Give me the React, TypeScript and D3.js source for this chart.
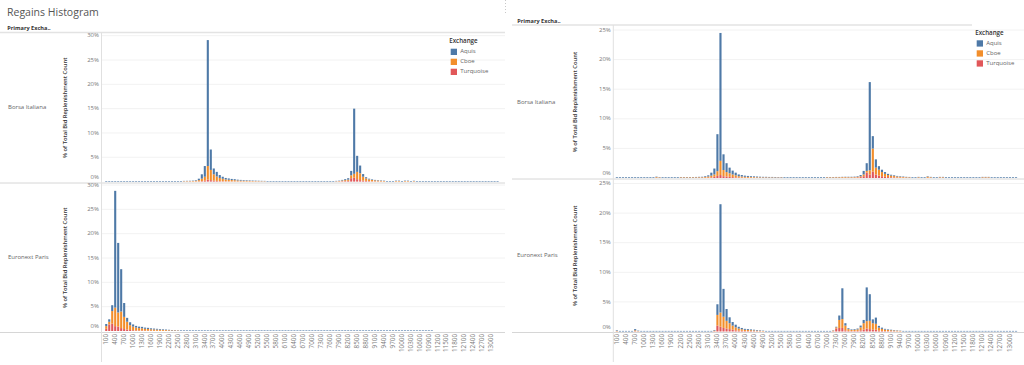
import { useEffect, useRef } from 'react'
import * as d3 from 'd3'

const W = 1024
const H = 365

// histogram bins, size 100
const BIN_FIRST = 100
const BIN_LAST = 13200
const BIN_SIZE = 100
const BINS = d3.range(BIN_FIRST, BIN_LAST + 1, BIN_SIZE)
const TICK_BINS = BINS.filter((_, i) => i % 3 === 0)

const MARKETS = ['Borsa Italiana', 'Euronext Paris']
const EXCHANGES = ['Aquis', 'Cboe', 'Turquoise']
const COLORS: Record<string, string> = { Aquis: '#4e79a7', Cboe: '#f28e2b', Turquoise: '#e15759' }
const STACK_KEYS = ['Turquoise', 'Cboe', 'Aquis'] // bottom -> top

const Y_TICKS_LEFT = [0, 5, 10, 15, 20, 25, 30]
const Y_TICKS_RIGHT = [0, 5, 10, 15, 20, 25]

type Row = [number, number, number, number] // bin, Aquis, Cboe, Turquoise (% of total)
type Floor = [number, number, number] // from bin, to bin, Aquis level

// ── left dashboard, Borsa Italiana ──
const leftBorsa: Row[] = [
  [2700, 0.06, 0.07, 0.02], [2800, 0.06, 0.08, 0.02], [2900, 0.07, 0.08, 0.02],
  [3000, 0.08, 0.1, 0.02], [3100, 0.12, 0.15, 0.03], [3200, 0.3, 0.25, 0.05],
  [3300, 0.9, 0.5, 0.1], [3400, 2.2, 0.8, 0.2], [3500, 25.9, 2.8, 0.4],
  [3600, 4.2, 2.1, 0.3], [3700, 1.2, 1.3, 0.2], [3800, 0.95, 0.9, 0.15],
  [3900, 0.6, 0.65, 0.1], [4000, 0.42, 0.5, 0.08], [4100, 0.31, 0.38, 0.06],
  [4200, 0.28, 0.32, 0.05], [4300, 0.23, 0.28, 0.04], [4400, 0.21, 0.25, 0.04],
  [4500, 0.17, 0.2, 0.03], [4600, 0.15, 0.17, 0.03], [4700, 0.13, 0.15, 0.02],
  [4800, 0.12, 0.14, 0.02], [4900, 0.11, 0.12, 0.02], [5000, 0.1, 0.1, 0.02],
  [5100, 0.09, 0.09, 0.02], [5200, 0.08, 0.08, 0.02], [5300, 0.08, 0.07, 0.01],
  [5400, 0.07, 0.07, 0.01],
  [7800, 0.07, 0.06, 0.02], [7900, 0.08, 0.08, 0.04], [8000, 0.12, 0.15, 0.08],
  [8100, 0.2, 0.2, 0.1], [8200, 0.3, 0.25, 0.15], [8300, 0.9, 0.6, 0.7],
  [8400, 13.4, 0.8, 0.8], [8500, 3.3, 1.5, 0.5], [8600, 1.6, 1.4, 0.3],
  [8700, 0.55, 0.8, 0.2], [8800, 0.25, 0.5, 0.15], [8900, 0.15, 0.35, 0.1],
  [9000, 0.12, 0.27, 0.06], [9100, 0.1, 0.2, 0.05], [9200, 0.09, 0.17, 0.04],
  [9300, 0.08, 0.14, 0.03], [9400, 0.07, 0.11, 0.02],
  [9800, 0.08, 0.1, 0.02], [9900, 0.08, 0.1, 0.02], [10100, 0.08, 0.1, 0.02],
  [10200, 0.08, 0.1, 0.02], [10400, 0.07, 0.09, 0.02],
]
const leftBorsaFloor: Floor[] = [[100, 13200, 0.12]]

// ── left dashboard, Euronext Paris ──
const leftParis: Row[] = [
  [100, 0.44, 0.55, 0.45], [200, 0.5, 0.55, 1.35], [300, 1.2, 2.6, 1.5],
  [400, 24.0, 3.8, 1.0], [500, 14.3, 2.9, 0.9], [600, 8.7, 3.4, 0.6],
  [700, 2.85, 2.5, 0.4], [800, 0.8, 1.6, 0.3], [900, 0.6, 1.0, 0.2],
  [1000, 0.45, 0.75, 0.15], [1100, 0.35, 0.58, 0.12], [1200, 0.3, 0.5, 0.1],
  [1300, 0.3, 0.45, 0.1], [1400, 0.25, 0.37, 0.08], [1500, 0.23, 0.35, 0.07],
  [1600, 0.2, 0.29, 0.06], [1700, 0.18, 0.27, 0.05], [1800, 0.16, 0.24, 0.05],
  [1900, 0.14, 0.22, 0.04], [2000, 0.12, 0.19, 0.04], [2100, 0.11, 0.16, 0.03],
  [2200, 0.09, 0.13, 0.03], [2300, 0.08, 0.1, 0.02], [2400, 0.07, 0.09, 0.02],
  [2500, 0.06, 0.07, 0.02],
]
const leftParisFloor: Floor[] = [[2600, 11000, 0.12]]

// ── right dashboard, Borsa Italiana ──
const rightBorsa: Row[] = [
  [1400, 0.08, 0.12, 0.03], [1500, 0.06, 0.08, 0.02],
  [2200, 0.05, 0.1, 0.02], [2300, 0.05, 0.1, 0.02], [2400, 0.05, 0.1, 0.02],
  [2500, 0.05, 0.1, 0.02], [2600, 0.05, 0.1, 0.02], [2700, 0.06, 0.1, 0.02],
  [2800, 0.07, 0.1, 0.03], [2900, 0.08, 0.1, 0.03], [3000, 0.12, 0.14, 0.04],
  [3100, 0.2, 0.2, 0.05], [3200, 0.5, 0.3, 0.1], [3300, 1.0, 0.4, 0.2],
  [3400, 6.25, 0.8, 0.35], [3500, 21.6, 2.4, 0.5], [3600, 2.65, 1.05, 0.3],
  [3700, 1.5, 0.75, 0.25], [3800, 0.95, 0.6, 0.2], [3900, 0.65, 0.45, 0.15],
  [4000, 0.45, 0.35, 0.1], [4100, 0.3, 0.23, 0.07], [4200, 0.25, 0.19, 0.06],
  [4300, 0.2, 0.15, 0.05], [4400, 0.17, 0.14, 0.04], [4500, 0.14, 0.12, 0.04],
  [4600, 0.13, 0.11, 0.04], [4700, 0.12, 0.1, 0.03], [4800, 0.1, 0.09, 0.03],
  [4900, 0.09, 0.08, 0.03], [5000, 0.09, 0.08, 0.03], [5100, 0.08, 0.08, 0.02],
  [5200, 0.08, 0.08, 0.02], [5300, 0.08, 0.07, 0.02], [5400, 0.07, 0.07, 0.02],
  [5500, 0.07, 0.07, 0.02],
  [7000, 0.05, 0.1, 0.02], [7100, 0.05, 0.1, 0.02], [7200, 0.05, 0.1, 0.02],
  [7300, 0.05, 0.11, 0.02], [7400, 0.05, 0.11, 0.02], [7500, 0.05, 0.12, 0.03],
  [7600, 0.06, 0.12, 0.03], [7700, 0.07, 0.1, 0.04], [7800, 0.07, 0.1, 0.04],
  [7900, 0.08, 0.1, 0.05], [8000, 0.1, 0.12, 0.08], [8100, 0.2, 0.15, 0.15],
  [8200, 0.6, 0.3, 0.3], [8300, 1.3, 0.3, 0.9], [8400, 14.9, 0.7, 0.6],
  [8500, 2.1, 3.9, 1.07], [8600, 1.4, 1.15, 0.6], [8700, 0.6, 1.0, 0.4],
  [8800, 0.4, 0.7, 0.3], [8900, 0.3, 0.5, 0.2], [9000, 0.2, 0.35, 0.15],
  [9100, 0.15, 0.28, 0.12], [9200, 0.12, 0.23, 0.1], [9300, 0.1, 0.18, 0.07],
  [9400, 0.09, 0.15, 0.06], [9500, 0.08, 0.12, 0.05], [9600, 0.07, 0.1, 0.03],
  [9700, 0.06, 0.09, 0.03], [10000, 0.06, 0.1, 0.03], [10300, 0.08, 0.18, 0.04],
  [10400, 0.06, 0.1, 0.03], [10700, 0.06, 0.1, 0.03], [10800, 0.06, 0.1, 0.03],
  [12100, 0.06, 0.1, 0.03], [12200, 0.06, 0.1, 0.03], [12300, 0.06, 0.1, 0.03],
]
const rightBorsaFloor: Floor[] = [[100, 13200, 0.12]]

// ── right dashboard, Euronext Paris ──
const rightParis: Row[] = [
  [100, 0.1, 0.07, 0.03], [700, 0.2, 0.15, 0.05], [800, 0.08, 0.05, 0.02],
  [3300, 0.1, 0.1, 0.05], [3400, 1.8, 1.8, 1.0], [3500, 18.3, 2.4, 0.8],
  [3600, 4.7, 1.9, 0.6], [3700, 2.0, 1.3, 0.5], [3800, 1.0, 1.0, 0.4],
  [3900, 0.6, 0.7, 0.3], [4000, 0.45, 0.5, 0.2], [4100, 0.3, 0.35, 0.15],
  [4200, 0.22, 0.26, 0.12], [4300, 0.17, 0.2, 0.08], [4400, 0.15, 0.18, 0.07],
  [4500, 0.13, 0.16, 0.06], [4600, 0.11, 0.14, 0.05], [4700, 0.1, 0.11, 0.04],
  [4800, 0.08, 0.09, 0.03], [4900, 0.06, 0.07, 0.02],
  [7200, 0.05, 0.1, 0.05], [7300, 0.1, 0.2, 0.5], [7400, 0.75, 1.35, 0.6],
  [7500, 5.2, 1.5, 0.6], [7600, 0.4, 0.8, 0.2], [7700, 0.15, 0.3, 0.1],
  [7800, 0.1, 0.18, 0.07], [7900, 0.12, 0.2, 0.08], [8000, 0.15, 0.25, 0.1],
  [8100, 0.3, 0.5, 0.2], [8200, 0.55, 1.1, 0.3], [8300, 5.7, 1.25, 0.5],
  [8400, 4.5, 1.4, 0.4], [8500, 0.65, 1.1, 0.3], [8600, 1.05, 1.0, 0.3],
  [8700, 0.3, 0.5, 0.15], [8800, 0.2, 0.35, 0.1], [8900, 0.13, 0.25, 0.07],
  [9000, 0.1, 0.19, 0.06], [9100, 0.09, 0.16, 0.05], [9200, 0.07, 0.14, 0.04],
  [9300, 0.06, 0.11, 0.03], [9400, 0.05, 0.08, 0.02],
]
const rightParisFloor: Floor[] = [[100, 13200, 0.1]]

// layout of the two dashboards
const PANELS = [
  {
    x0: 0, x1: 505, axisX: 101.5, band: [105.2, 498.6] as [number, number],
    headerY: 32.5, headerX: [0, 505], headerLabel: [7.3, 30.3],
    rowLabelX: 8, yTitleX: 65, legend: [450.7, 41.7], ticks: Y_TICKS_LEFT,
    rows: [
      { data: leftBorsa, floor: leftBorsaFloor, zero: 181.6, top: 35.7, max: 30, y0: 32.5, y1: 183 },
      { data: leftParis, floor: leftParisFloor, zero: 331, top: 185, max: 30, y0: 183, y1: 332.5 },
    ],
  },
  {
    x0: 512, x1: 1024, axisX: 613.3, band: [615.8, 1017.1] as [number, number],
    headerY: 25, headerX: [512, 972], headerLabel: [517.3, 23],
    rowLabelX: 517, yTitleX: 575, legend: [976.7, 33.3], ticks: Y_TICKS_RIGHT,
    rows: [
      { data: rightBorsa, floor: rightBorsaFloor, zero: 178, top: 30, max: 25, y0: 25, y1: 179 },
      { data: rightParis, floor: rightParisFloor, zero: 331.5, top: 183.5, max: 25, y0: 179, y1: 332.5 },
    ],
  },
]

function buildSeries(rows: Row[], floor: Floor[]) {
  const byBin = new Map(rows.map((r) => [r[0], r]))
  return BINS.map((bin) => {
    const r = byBin.get(bin)
    if (r) return { bin, Aquis: r[1], Cboe: r[2], Turquoise: r[3] }
    const f = floor.find(([a, b]) => bin >= a && bin <= b)
    return { bin, Aquis: f ? f[2] : 0, Cboe: 0, Turquoise: 0 }
  })
}

export default function App() {
  const svgRef = useRef<SVGSVGElement>(null)

  useEffect(() => {
    const svg = d3.select(svgRef.current)
    svg.selectAll('*').remove()
    svg.attr('font-family', "'Open Sans', sans-serif")

    svg.append('text')
      .attr('x', 7).attr('y', 15.5)
      .attr('font-size', 10.5).attr('fill', '#555')
      .text('Regains Histogram')

    svg.append('line')
      .attr('x1', 505.5).attr('x2', 505.5).attr('y1', 0).attr('y2', 14)
      .attr('stroke', '#c8c8c8').attr('stroke-dasharray', '1 2')

    const stack = d3.stack<any>().keys(STACK_KEYS)

    PANELS.forEach((p) => {
      const g = svg.append('g')
      const x = d3.scaleBand<number>().domain(BINS).range(p.band).paddingInner(0.3)

      // ── header ──
      g.append('text')
        .attr('x', p.headerLabel[0]).attr('y', p.headerLabel[1])
        .attr('font-size', 5.6).attr('font-weight', 700).attr('fill', '#333')
        .text('Primary Excha..')
      g.append('line')
        .attr('x1', p.headerX[0]).attr('x2', p.headerX[1])
        .attr('y1', p.headerY).attr('y2', p.headerY)
        .attr('stroke', '#e3e3e3').attr('stroke-width', 1.5)

      p.rows.forEach((r, ri) => {
        const y = d3.scaleLinear().domain([0, r.max]).range([r.zero, r.top])
        const mid = (r.y0 + r.y1) / 2

        // gridlines
        p.ticks.filter((t) => t > 0).forEach((t) => {
          g.append('line')
            .attr('x1', p.axisX).attr('x2', p.x1)
            .attr('y1', y(t)).attr('y2', y(t))
            .attr('stroke', '#f2f2f2').attr('stroke-width', 1)
        })

        // stacked bars
        const series = stack(buildSeries(r.data, r.floor))
        series.forEach((s) => {
          g.append('g').attr('fill', COLORS[s.key])
            .selectAll('rect').data(s.filter((d) => d[1] > d[0])).join('rect')
            .attr('x', (d) => x(d.data.bin)!)
            .attr('width', x.bandwidth())
            .attr('y', (d) => y(d[1]))
            .attr('height', (d) => y(d[0]) - y(d[1]))
        })

        // row divider
        g.append('line')
          .attr('x1', p.x0).attr('x2', p.x1)
          .attr('y1', r.y1).attr('y2', r.y1)
          .attr('stroke', '#d6d6d6').attr('stroke-width', 1)

        // y tick labels (bottom one nudged up like Tableau)
        p.ticks.forEach((t) => {
          g.append('text')
            .attr('x', p.axisX - 2.5).attr('y', y(t) + (t === 0 ? -4.5 : 0))
            .attr('text-anchor', 'end').attr('dominant-baseline', 'middle')
            .attr('font-size', 6).attr('fill', '#7a7a7a')
            .text(`${t}%`)
        })

        // y axis title
        g.append('text')
          .attr('transform', `translate(${p.yTitleX},${mid}) rotate(-90)`)
          .attr('text-anchor', 'middle').attr('dominant-baseline', 'middle')
          .attr('font-size', 5.8).attr('font-weight', 600).attr('fill', '#333')
          .text('% of Total Bid Replenishment Count')

        // row header
        g.append('text')
          .attr('x', p.rowLabelX).attr('y', mid)
          .attr('dominant-baseline', 'middle')
          .attr('font-size', 6).attr('fill', '#666')
          .text(MARKETS[ri])
      })

      // y axis line
      g.append('line')
        .attr('x1', p.axisX).attr('x2', p.axisX)
        .attr('y1', p.headerY).attr('y2', 362)
        .attr('stroke', '#e0e0e0').attr('stroke-width', 1)

      // x tick labels
      const base = p.rows[p.rows.length - 1].y1 + 1.5
      TICK_BINS.forEach((b) => {
        g.append('text')
          .attr('transform', `translate(${x(b)! + x.bandwidth() / 2},${base}) rotate(-90)`)
          .attr('text-anchor', 'end').attr('dominant-baseline', 'middle')
          .attr('font-size', 6.3).attr('fill', '#7a7a7a')
          .text(String(b))
      })

      // ── legend ──
      const leg = g.append('g').attr('transform', `translate(${p.legend[0]},${p.legend[1]})`)
      leg.append('text')
        .attr('x', -1.5).attr('y', 0).attr('dominant-baseline', 'middle')
        .attr('font-size', 6.2).attr('font-weight', 600).attr('fill', '#333')
        .text('Exchange')
      EXCHANGES.forEach((ex, i) => {
        leg.append('rect')
          .attr('x', 0).attr('y', 7 + i * 10)
          .attr('width', 6.3).attr('height', 6.3)
          .attr('fill', COLORS[ex])
        leg.append('text')
          .attr('x', 9.5).attr('y', 10.2 + i * 10)
          .attr('dominant-baseline', 'middle')
          .attr('font-size', 6).attr('fill', '#666')
          .text(ex)
      })
    })
  }, [])

  return (
    <div style={{ position: 'absolute', left: 0, top: 0, background: '#fff' }}>
      <svg ref={svgRef} width={W} height={H} style={{ display: 'block' }} />
    </div>
  )
}
